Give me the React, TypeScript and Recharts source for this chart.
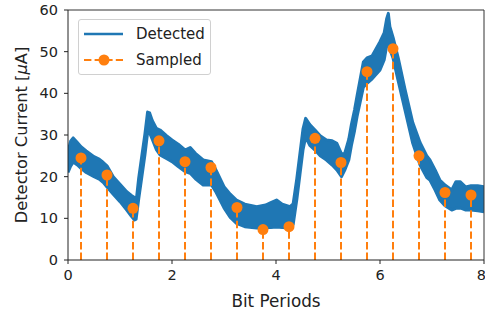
import React from 'react';
import { ComposedChart, Area, Scatter, XAxis, YAxis, ReferenceLine, Legend } from 'recharts';

const detectedX = [0.0, 0.05, 0.1, 0.18, 0.25, 0.35, 0.5, 0.6, 0.68, 0.75, 0.87, 1.0, 1.13, 1.22, 1.28, 1.31, 1.36, 1.42, 1.48, 1.53, 1.57, 1.62, 1.7, 1.77, 1.9, 2.0, 2.12, 2.25, 2.35, 2.45, 2.6, 2.76, 2.85, 3.0, 3.12, 3.24, 3.4, 3.63, 3.8, 3.9, 4.01, 4.12, 4.27, 4.33, 4.4, 4.46, 4.52, 4.57, 4.65, 4.75, 4.85, 4.97, 5.08, 5.17, 5.26, 5.32, 5.4, 5.45, 5.51, 5.56, 5.62, 5.68, 5.75, 5.85, 6.0, 6.08, 6.13, 6.16, 6.19, 6.25, 6.35, 6.48, 6.63, 6.77, 6.9, 6.96, 7.06, 7.15, 7.25, 7.38, 7.46, 7.54, 7.65, 7.75, 7.88, 8.0];
const detectedLow = [21.0, 22.5, 23.5, 22.8, 22.0, 21.0, 20.0, 19.4, 18.6, 17.5, 15.8, 14.0, 12.0, 10.5, 9.6, 9.8, 14.7, 20.0, 25.3, 30.5, 30.5, 29.0, 26.5, 25.2, 24.3, 23.6, 22.4, 21.2, 20.8, 19.5, 18.0, 18.0, 16.2, 12.5, 10.2, 8.8, 8.0, 7.7, 7.8, 7.8, 7.9, 7.8, 7.7, 8.5, 14.5, 20.5, 26.5, 29.5, 27.5, 26.4, 25.0, 24.0, 22.8, 21.6, 20.0, 21.5, 24.0, 27.5, 31.0, 34.5, 38.0, 41.5, 42.4, 43.5, 45.6, 48.0, 51.5, 53.0, 50.5, 48.5, 43.0, 36.0, 28.0, 22.8, 19.8, 19.2, 16.8, 14.4, 13.0, 12.0, 12.4, 12.5, 12.0, 12.0, 11.8, 11.6];
const detectedHigh = [26.0, 28.5, 29.3, 28.2, 27.2, 26.2, 24.8, 24.2, 23.4, 22.6, 20.0, 18.2, 16.4, 15.5, 15.0, 14.0, 19.7, 25.0, 30.3, 35.5, 35.3, 33.5, 31.6, 31.2, 29.8, 28.8, 27.8, 26.4, 27.0, 25.6, 24.0, 23.6, 21.5, 17.6, 15.8, 14.4, 13.4, 12.8, 13.2, 13.8, 14.4, 13.4, 12.8, 13.5, 19.5, 25.5, 31.5, 34.0, 32.5, 31.2, 29.8, 28.8, 28.6, 28.0, 25.5, 25.5, 29.0, 32.5, 36.0, 39.5, 43.5, 47.5, 48.5, 49.0, 52.4, 54.5, 58.0, 59.2, 56.0, 53.5, 48.5, 41.0, 33.0, 28.2, 25.0, 24.0, 21.6, 19.2, 18.0, 16.8, 18.8, 18.8, 17.5, 17.8, 17.8, 17.6];

const sampleX = [0.25, 0.75, 1.25, 1.75, 2.25, 2.75, 3.25, 3.75, 4.25, 4.75, 5.25, 5.75, 6.25, 6.75, 7.25, 7.75];
const sampleY = [24.5, 20.4, 12.4, 28.6, 23.6, 22.2, 12.6, 7.3, 8.0, 29.2, 23.4, 45.2, 50.7, 25.0, 16.2, 15.6];

const xTicks = [0, 2, 4, 6, 8];
const yTicks = [0, 10, 20, 30, 40, 50, 60];

const BLUE = '#1f77b4';
const ORANGE = '#ff7f0e';
const FONT = 'DejaVu Sans';
const TEXT = '#222';

const detectedData = detectedX.map((x, i) => ({ x, band: [detectedLow[i], detectedHigh[i]] }));
const sampleData = sampleX.map((x, i) => ({ x, y: sampleY[i] }));

const LegendBox = () => (
  <div
    style={{
      width: 131,
      height: 54,
      border: '1px solid #d0d0d0',
      borderRadius: 3,
      background: 'rgba(255,255,255,0.8)',
      position: 'relative',
    }}
  >
    <svg width={131} height={54} style={{ position: 'absolute', left: 0, top: 0 }}>
      <line x1={5} x2={44} y1={14} y2={14} stroke={BLUE} strokeWidth={2.5} />
      <line x1={5} x2={44} y1={40} y2={40} stroke={ORANGE} strokeWidth={2} strokeDasharray="7.4 3.2" />
      <circle cx={25} cy={40} r={5.5} fill={ORANGE} />
      <text x={57} y={14} dominantBaseline="central" fontFamily={FONT} fontSize={15} fill={TEXT}>Detected</text>
      <text x={57} y={40} dominantBaseline="central" fontFamily={FONT} fontSize={15} fill={TEXT}>Sampled</text>
    </svg>
  </div>
);

const YLabel = () => (
  <text
    x={21}
    y={135}
    transform="rotate(-90 21 135)"
    textAnchor="middle"
    dominantBaseline="central"
    fontFamily={FONT}
    fontSize={16.3}
    fill={TEXT}
  >
    Detector Current [<tspan fontStyle="italic">μ</tspan>A]
  </text>
);

export default function App() {
  return (
    <div style={{ position: 'absolute', left: 0, top: 0, width: 485, height: 315, background: '#fff' }}>
      <ComposedChart
        width={485}
        height={315}
        data={detectedData}
        margin={{ top: 10, right: 1, bottom: 0, left: 0 }}
      >
        <XAxis
          dataKey="x"
          type="number"
          domain={[0, 8]}
          ticks={xTicks}
          allowDataOverflow
          height={55}
          tickSize={4}
          tickMargin={6}
          stroke={TEXT}
          tick={{ fontFamily: FONT, fontSize: 14.5, fill: TEXT }}
          label={{ value: 'Bit Periods', position: 'insideBottom', offset: 8, fontFamily: FONT, fontSize: 16.8, fill: TEXT }}
        />
        <YAxis
          type="number"
          domain={[0, 60]}
          ticks={yTicks}
          allowDataOverflow
          width={68}
          tickSize={4}
          tickMargin={6}
          stroke={TEXT}
          tick={{ fontFamily: FONT, fontSize: 14.5, fill: TEXT }}
          label={<YLabel />}
        />
        <ReferenceLine y={60} stroke="#333" strokeWidth={1} />
        <ReferenceLine x={8} stroke="#333" strokeWidth={1} />
        <Area
          dataKey="band"
          type="linear"
          stroke={BLUE}
          strokeWidth={3}
          strokeLinejoin="round"
          fill={BLUE}
          fillOpacity={1}
          isAnimationActive={false}
          legendType="none"
        />
        {sampleData.map((p, i) => (
          <ReferenceLine
            key={i}
            segment={[{ x: p.x, y: 0 }, { x: p.x, y: p.y }]}
            stroke={ORANGE}
            strokeWidth={2}
            strokeDasharray="7.4 3.2"
          />
        ))}
        <Scatter
          data={sampleData}
          dataKey="y"
          fill={ORANGE}
          isAnimationActive={false}
          shape={(props: any) => <circle cx={props.cx} cy={props.cy} r={5.5} fill={ORANGE} />}
        />
        <Legend
          layout="horizontal"
          verticalAlign="middle"
          align="center"
          content={<LegendBox />}
          wrapperStyle={{ position: 'absolute', left: 78, top: 19, width: 133, height: 56 }}
        />
      </ComposedChart>
    </div>
  );
}
